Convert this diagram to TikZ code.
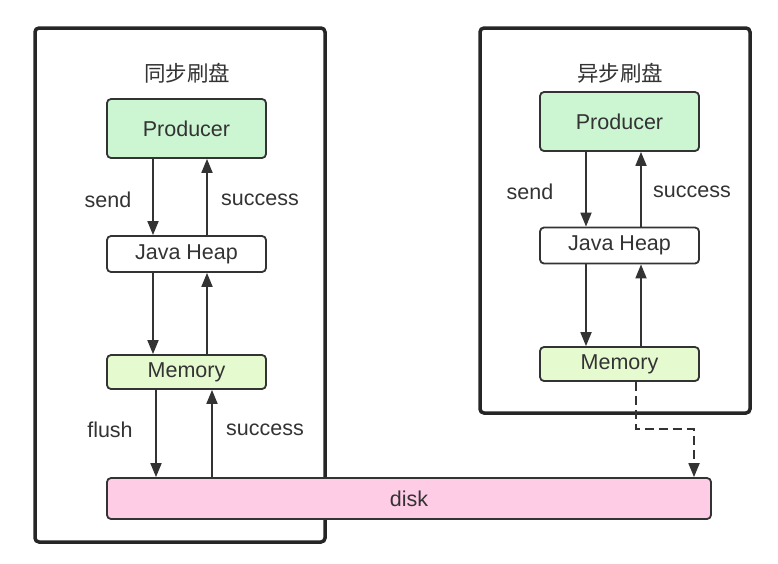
\documentclass[tikz,border=0pt]{standalone}
\usepackage{fontspec}
\setmainfont{Liberation Sans}
\newfontfamily\cjk{Noto Sans CJK SC}
\usetikzlibrary{arrows.meta,positioning,calc}
\definecolor{fgray}{HTML}{333333}
\definecolor{prodgreen}{HTML}{CCF5D2}
\definecolor{memgreen}{HTML}{E6FAD0}
\definecolor{diskpink}{HTML}{FFCCE6}

\begin{document}
\begin{tikzpicture}[
  x=1pt, y=-1pt,
  panel/.style={
    draw=black!85, line width=3.5pt, rounded corners=4pt, fill=white,
    inner sep=0pt
  },
  box/.style={
    draw=fgray, line width=1.8pt, rounded corners=4pt,
    font=\fontsize{21.5}{25}\selectfont, text=fgray,
    inner sep=0pt, minimum width=159pt
  },
  title/.style={font=\cjk\fontsize{21.5}{25}\selectfont, text=fgray},
  label/.style={font=\fontsize{21.5}{25}\selectfont, text=fgray},
  arrow/.style={-{Triangle[length=14pt,width=11pt]}, fgray, line width=1.8pt},
]
  \useasboundingbox (0,0) rectangle (778,563);

  % Marcos de los dos modos
  \node[panel, minimum width=290pt, minimum height=514pt] (syncbox) at (180,285) {};
  \node[panel, minimum width=270pt, minimum height=385pt] (asyncbox) at (615,220.5) {};

  % Títulos
  \node[title] (synctitle) at (187,73) {同步刷盘};
  \node[title] (asynctitle) at (620,73) {异步刷盘};

  % Cajas del lado síncrono
  \node[box, fill=prodgreen, minimum height=59pt] (prodL) at (186.5,128.5) {Producer};
  \node[box, fill=white, minimum height=36pt] (heapL) at (186.5,254) {Java Heap};
  \node[box, fill=memgreen, minimum height=34pt] (memL) at (186.5,372) {Memory};

  % Cajas del lado asíncrono
  \node[box, fill=prodgreen, minimum height=59pt] (prodR) at (619.5,121.5) {Producer};
  \node[box, fill=white, minimum height=36pt] (heapR) at (619.5,245.5) {Java Heap};
  \node[box, fill=memgreen, minimum height=34pt] (memR) at (619.5,364) {Memory};

  % Disco compartido
  \node[box, fill=diskpink, minimum width=604pt, minimum height=41pt] (disk) at (409,498.5) {disk};

  % Flechas síncronas
  \draw[arrow] ([xshift=-33.5pt]prodL.south) -- ([xshift=-33.5pt]heapL.north);
  \draw[arrow] ([xshift=20.5pt]heapL.north) -- ([xshift=20.5pt]prodL.south);
  \draw[arrow] ([xshift=-33.5pt]heapL.south) -- ([xshift=-33.5pt]memL.north);
  \draw[arrow] ([xshift=20.5pt]memL.north) -- ([xshift=20.5pt]heapL.south);
  \draw[arrow] ([xshift=-30.5pt]memL.south) -- ([xshift=-30.5pt]memL.south |- disk.north);
  \draw[arrow] ([xshift=25.5pt]memL.south |- disk.north) -- ([xshift=25.5pt]memL.south);

  % Flechas asíncronas
  \draw[arrow] ([xshift=-33.5pt]prodR.south) -- ([xshift=-33.5pt]heapR.north);
  \draw[arrow] ([xshift=21.5pt]heapR.north) -- ([xshift=21.5pt]prodR.south);
  \draw[arrow] ([xshift=-33.5pt]heapR.south) -- ([xshift=-33.5pt]memR.north);
  \draw[arrow] ([xshift=21.5pt]memR.north) -- ([xshift=21.5pt]heapR.south);

  % Volcado diferido (discontinuo)
  \coordinate (drop) at (694,429);
  \draw[arrow, dash pattern=on 9pt off 5pt]
    ([xshift=16.5pt]memR.south) |- (drop) -- (drop |- disk.north);

  % Etiquetas
  \node[label] (sendL) at (108,200) {send};
  \node[label] (okL) at (260,200) {success};
  \node[label] (flushL) at (110,430) {flush};
  \node[label] (okdiskL) at (265,430) {success};
  \node[label] (sendR) at (530,192) {send};
  \node[label] (okR) at (692,192) {success};

\end{tikzpicture}
\end{document}
